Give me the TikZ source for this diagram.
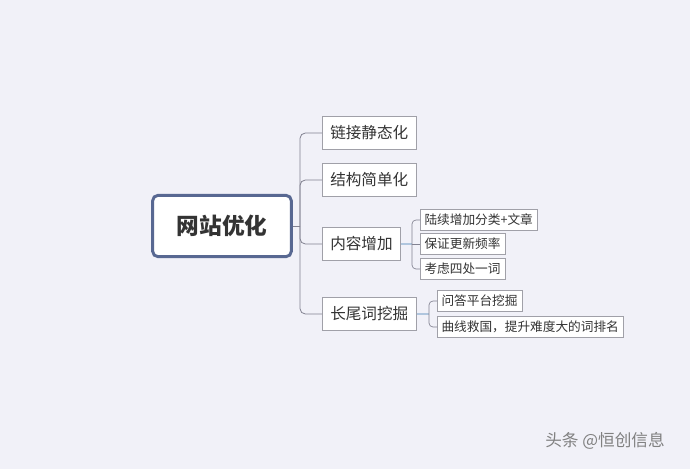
\documentclass[tikz,border=0pt]{standalone}
\usepackage{fontspec}
\setmainfont{Noto Sans CJK SC}
\definecolor{bgcol}{RGB}{241,241,248}
\definecolor{rootline}{RGB}{88,104,146}
\definecolor{boxline}{RGB}{160,160,168}
\definecolor{trunkline}{RGB}{130,130,145}
\definecolor{subline}{RGB}{176,198,222}
\begin{document}
\begin{tikzpicture}[x=0.75pt, y=-0.75pt,
    root/.style ={draw=rootline, line width=2.2pt, fill=white, rounded corners=4pt,
                  minimum width=104pt, minimum height=46pt, font=\fontsize{17}{20}\selectfont\bfseries, text=black!80},
    topic/.style ={draw=boxline, fill=white, inner xsep=6pt, minimum height=25pt,
                   font=\fontsize{11.7}{14}\selectfont, text=black!80, anchor=west},
    subtopic/.style ={draw=boxline, fill=white, inner xsep=3.2pt, minimum height=15.5pt,
                      font=\fontsize{9.5}{11}\selectfont, text=black!80, anchor=west},
    branch/.style ={draw=trunkline, line width=0.6pt, rounded corners=4pt},
    subbranch/.style ={draw=trunkline, line width=0.5pt, rounded corners=3pt}]
   \fill[bgcol] (0,0) rectangle (690,469);

   \node[root] (R) at (222,226) {网站优化};

   \node[topic] (A)  at (322,133) {链接静态化};
   \node[topic] (B)  at (322,180) {结构简单化};
   \node[topic] (C)  at (322,244) {内容增加};
   \node[topic] (D)  at (322,314) {长尾词挖掘};

   \node[subtopic] (C1) at (420,220) {陆续增加分类+文章};
   \node[subtopic] (C2) at (420,244) {保证更新频率};
   \node[subtopic] (C3) at (420,269) {考虑四处一词};
   \node[subtopic] (D1) at (437,301) {问答平台挖掘};
   \node[subtopic] (D2) at (437,327) {曲线救国，提升难度大的词排名};

   \node[font=\fontsize{12.5}{14}\selectfont, text=black!50] (W) at (605,441)
        {头条 @恒创信息};

   \coordinate (t)  at (300,226);
   \coordinate (tc) at (412,244);
   \coordinate (td) at (429,314);

   \draw[branch] (R) -- (t);
   \draw[branch] (t) |- (A);
   \draw[branch] (t) |- (B);
   \draw[branch] (t) |- (C);
   \draw[branch] (t) |- (D);

   \draw[subline, line width=1.6pt] (C) -- (tc);
   \draw[subbranch] (tc) |- (C1);
   \draw[subbranch] (tc) -- (C2);
   \draw[subbranch] (tc) |- (C3);
   \draw[subline, line width=1.6pt] (D) -- (td);
   \draw[subbranch] (td) |- (D1);
   \draw[subbranch] (td) |- (D2);
 \end{tikzpicture}
\end{document}
